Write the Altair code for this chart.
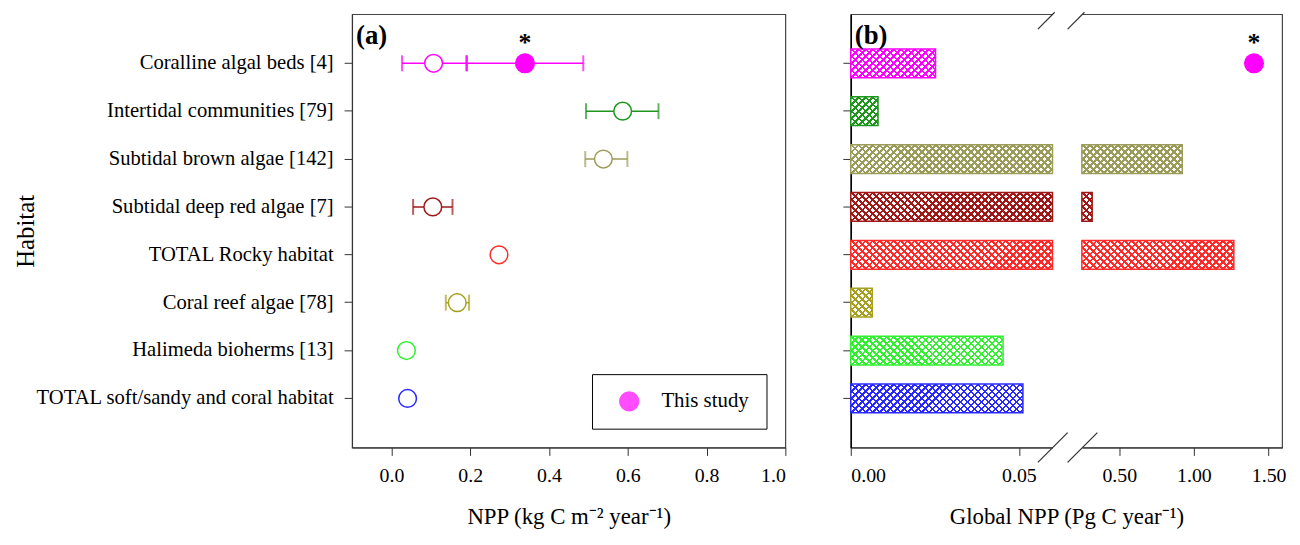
import math
import altair as alt
import pandas as pd

# ---------------- data ----------------
habitats = [
    "Coralline algal beds [4]",
    "Intertidal communities [79]",
    "Subtidal brown algae [142]",
    "Subtidal deep red algae [7]",
    "TOTAL Rocky habitat",
    "Coral reef algae [78]",
    "Halimeda bioherms [13]",
    "TOTAL soft/sandy and coral habitat",
]
colors = ["#FF00FF", "#1E961E", "#9C9C5A", "#A01818", "#FF2A2A", "#A8A020", "#30F030", "#2828FF"]

npp_mean = [0.107, 0.587, 0.538, 0.105, 0.273, 0.167, 0.038, 0.041]
npp_lo = [0.027, 0.494, 0.492, 0.055, None, 0.138, None, None]
npp_hi = [0.191, 0.678, 0.599, 0.155, None, 0.197, None, None]

study_label = ["This study"]
study_npp = [0.339]
study_lo = [0.191]
study_hi = [0.487]

global_npp = [0.0252, 0.0081, 0.922, 0.319, 1.267, 0.0064, 0.0453, 0.0512]
study_global = [1.402]

x_ticks_a = [0.0, 0.2, 0.4, 0.6, 0.8, 1.0]
x_ticks_b = [0.0, 0.05, 0.5, 1.0, 1.5]

# ---------------- broken-axis scale for panel (b) ----------------
LEFT_END = 0.06        # value where left segment stops
RIGHT_START = 0.25     # value where right segment begins
RIGHT_MAX = 1.59
U_LEFT_END = 0.4677    # fraction of width used by left segment
U_RIGHT_START = 0.5358
kL = U_LEFT_END / LEFT_END
kR = (1 - U_RIGHT_START) / (RIGHT_MAX - RIGHT_START)


def to_u(v):
    return v * kL if v <= LEFT_END else U_RIGHT_START + (v - RIGHT_START) * kR


FONT = "Liberation Serif"
W_A, W_B, H = 437, 435, 437
PAD_INNER, PAD_OUTER = 0.4, 0.725
BAND = H / (len(habitats) - PAD_INNER + 2 * PAD_OUTER) * (1 - PAD_INNER)

df_a = pd.DataFrame({"habitat": habitats, "mean": npp_mean, "lo": npp_lo, "hi": npp_hi, "color": colors})
df_err = df_a.dropna()
df_study = pd.DataFrame({"habitat": [habitats[0]], "npp": study_npp, "lo": study_lo, "hi": study_hi,
                         "label": study_label})
df_b = pd.DataFrame({"habitat": habitats, "v": global_npp, "color": colors})
df_study_b = pd.DataFrame({"habitat": [habitats[0]], "v": study_global, "label": study_label})

yscale = alt.Scale(domain=habitats, paddingInner=PAD_INNER, paddingOuter=PAD_OUTER)

axis_ya = alt.Axis(title="Habitat", titleFontSize=25, labelFontSize=20.8, tickSize=8, labelPadding=11,
                   labelLimit=400, titleX=-321, titleY=H / 2, titleAngle=270, titleAlign="center",
                   titleBaseline="alphabetic")
axis_yb = alt.Axis(title=None, labels=False, tickSize=8, domainColor="black", domainWidth=1.5)


def ya(field="habitat"):
    return alt.Y(f"{field}:N", scale=yscale, sort=habitats, axis=axis_ya)


def yb(field="habitat"):
    return alt.Y(f"{field}:N", scale=yscale, sort=habitats, axis=axis_yb)


axis_xa = alt.Axis(values=x_ticks_a, format=".1f", title="NPP (kg C m⁻² year⁻¹)", titleFontSize=23,
                   labelFontSize=20, tickSize=8, labelPadding=10, titlePadding=21)
scale_xa = alt.Scale(domain=[-0.1, 1.0], nice=False, zero=False)


def xa(field):
    return alt.X(f"{field}:Q", scale=scale_xa, axis=axis_xa)


label_expr = (f"datum.value < {U_LEFT_END + 0.03} ? format(datum.value / {kL}, '.2f') : "
              f"format({RIGHT_START} + (datum.value - {U_RIGHT_START}) / {kR}, '.2f')")
axis_xb = alt.Axis(values=[to_u(t) for t in x_ticks_b], labelExpr=label_expr,
                   title="Global NPP (Pg C year⁻¹)", titleFontSize=23, labelFontSize=20, tickSize=8,
                   labelPadding=10, titlePadding=21)
scale_xb = alt.Scale(domain=[0, 1], nice=False, zero=False)


def xb(field):
    return alt.X(f"{field}:Q", scale=scale_xb, axis=axis_xb)


# ---------------- panel (a) ----------------
err_rule = alt.Chart(df_err).mark_rule(strokeWidth=1.5).encode(
    x=xa("lo"), x2="hi:Q", y=ya(), stroke=alt.Stroke("color:N", scale=None))
err_lo = alt.Chart(df_err).mark_tick(size=16, thickness=2).encode(
    x=xa("lo"), y=ya(), color=alt.Color("color:N", scale=None))
err_hi = alt.Chart(df_err).mark_tick(size=16, thickness=2).encode(
    x=xa("hi"), y=ya(), color=alt.Color("color:N", scale=None))
open_pts = alt.Chart(df_a).mark_point(shape="circle", filled=True, fill="white", size=320, strokeWidth=1.5,
                                      opacity=1).encode(
    x=xa("mean"), y=ya(), stroke=alt.Stroke("color:N", scale=None))

st_rule = alt.Chart(df_study).mark_rule(strokeWidth=1.5, color="#FF00FF").encode(x=xa("lo"), x2="hi:Q", y=ya())
st_lo = alt.Chart(df_study).mark_tick(size=16, thickness=2.5, color="#FF00FF").encode(x=xa("lo"), y=ya())
st_hi = alt.Chart(df_study).mark_tick(size=16, thickness=2, color="#FF00FF").encode(x=xa("hi"), y=ya())
st_pt = alt.Chart(df_study).mark_circle(size=410, opacity=1).encode(
    x=xa("npp"), y=ya(),
    color=alt.Color("label:N", scale=alt.Scale(domain=study_label, range=["#FF00FF"]),
                    legend=alt.Legend(title=None, orient="bottom-right", offset=19, padding=17,
                                      strokeColor="black", fillColor="white", labelFontSize=21,
                                      labelFont=FONT, symbolSize=420, symbolType="circle",
                                      symbolOffset=10, labelOffset=22, symbolStrokeWidth=0,
                                      symbolOpacity=1)))
st_star = alt.Chart(df_study).mark_text(text="*", fontSize=26, fontWeight="bold", font=FONT, dy=-20,
                                        baseline="middle", color="black").encode(x=xa("npp"), y=ya())
lab_a = alt.Chart(pd.DataFrame({"t": ["(a)"]})).mark_text(
    align="left", baseline="alphabetic", fontSize=27, fontWeight="bold", font=FONT, color="black").encode(
    x=alt.value(4), y=alt.value(30), text="t:N")

panel_a = alt.layer(err_rule, err_lo, err_hi, open_pts, st_rule, st_lo, st_hi, st_pt, st_star, lab_a).properties(
    width=W_A, height=H)


# ---------------- panel (b): cross-hatched bars on a broken axis ----------------
def hatch(w, h, color, direction, bg, pitch=5.0, lw=1.8):
    """Linear-gradient stripes at 45 degrees (in pixels) for a bar of w x h px."""
    L = w + h
    a = L / (w * w + h * h)
    vx, vy = a * w, a * h
    if direction == 1:
        x1, y1, x2, y2 = 0, 0, vx, vy
    else:
        x1, y1, x2, y2 = 0, 1, vx, 1 - vy
    period = pitch * math.sqrt(2) / L
    lwt = lw * math.sqrt(2) / L
    stops = []
    t = 0.0
    while t < 1:
        e1 = min(t + lwt, 1.0)
        e2 = min(t + period, 1.0)
        stops += [alt.GradientStop(offset=t, color=color), alt.GradientStop(offset=e1, color=color),
                  alt.GradientStop(offset=e1, color=bg), alt.GradientStop(offset=e2, color=bg)]
        t += period
    return alt.LinearGradient(gradient="linear", stops=stops, x1=x1, y1=y1, x2=x2, y2=y2)


LEFT_CALC = dict(u0="0", u1=f"min(datum.v, {LEFT_END}) * {kL}")
RIGHT_CALC = dict(u0=f"{U_RIGHT_START}", u1=f"{U_RIGHT_START} + (datum.v - {RIGHT_START}) * {kR}")

bar_layers = []
for hab, val, col in zip(habitats, global_npp, colors):
    segs = [(LEFT_CALC, min(val, LEFT_END) * kL * W_B)]
    if val > LEFT_END:
        segs.append((RIGHT_CALC, (val - RIGHT_START) * kR * W_B))
    for calc, wpx in segs:
        base = alt.Chart(df_b).transform_filter(alt.datum.habitat == hab).transform_calculate(**calc)
        enc = dict(x=xb("u0"), x2="u1:Q", y=yb())
        bar_layers.append(base.mark_bar(fill=hatch(wpx, BAND, col, 1, "#FFFFFF"), strokeWidth=0).encode(**enc))
        bar_layers.append(base.mark_bar(fill=hatch(wpx, BAND, col, -1, "rgba(255,255,255,0)"),
                                        strokeWidth=0).encode(**enc))

for calc, filt in ((LEFT_CALC, "true"), (RIGHT_CALC, f"datum.v > {LEFT_END}")):
    bar_layers.append(alt.Chart(df_b).transform_filter(filt).transform_calculate(**calc).mark_bar(
        fillOpacity=0, strokeWidth=1.5).encode(
        x=xb("u0"), x2="u1:Q", y=yb(), stroke=alt.Stroke("color:N", scale=None)))

st_b = alt.Chart(df_study_b).transform_calculate(
    u=f"{U_RIGHT_START} + (datum.v - {RIGHT_START}) * {kR}"
).mark_circle(size=410, opacity=1, color="#FF00FF").encode(x=xb("u"), y=yb())
st_b_star = alt.Chart(df_study_b).transform_calculate(
    u=f"{U_RIGHT_START} + (datum.v - {RIGHT_START}) * {kR}"
).mark_text(text="*", fontSize=26, fontWeight="bold", font=FONT, dy=-20, baseline="middle",
            color="black").encode(x=xb("u"), y=yb())
lab_b = alt.Chart(pd.DataFrame({"t": ["(b)"]})).mark_text(
    align="left", baseline="alphabetic", fontSize=27, fontWeight="bold", font=FONT, color="black").encode(
    x=alt.value(4), y=alt.value(30), text="t:N")

one = pd.DataFrame({"k": [0]})
bx1, bx2 = 203.7, 233.7
gap_top = alt.Chart(one).mark_rule(color="white", strokeWidth=3).encode(
    x=alt.value(bx1), x2=alt.value(bx2), y=alt.value(0))
gap_bot = alt.Chart(one).mark_rule(color="white", strokeWidth=3).encode(
    x=alt.value(bx1), x2=alt.value(bx2), y=alt.value(H))
slashes = []
for cx in (bx1, bx2):
    slashes.append(alt.Chart(one).mark_rule(color="#333", strokeWidth=1.2).encode(
        x=alt.value(cx - 15), y=alt.value(15), x2=alt.value(cx + 2), y2=alt.value(-2)))
    slashes.append(alt.Chart(one).mark_rule(color="#333", strokeWidth=1.2).encode(
        x=alt.value(cx - 15), y=alt.value(H + 15), x2=alt.value(cx + 15), y2=alt.value(H - 15)))

panel_b = alt.layer(*bar_layers, st_b, st_b_star, lab_b, gap_top, gap_bot, *slashes).properties(
    width=W_B, height=H)

chart = alt.hconcat(panel_a, panel_b, spacing=54).resolve_scale(
    x="independent", y="independent", color="independent"
).configure(
    padding={"left": 5, "top": 0, "right": 5, "bottom": 5}, background="white"
).configure_view(
    stroke="#444", strokeWidth=1.2
).configure_axis(
    labelFont=FONT, titleFont=FONT, labelColor="black", titleColor="black", tickColor="#333",
    domainColor="#333", grid=False, titleFontWeight="normal"
)

chart.save("out.html", embed_options={"renderer": "svg", "actions": False})
